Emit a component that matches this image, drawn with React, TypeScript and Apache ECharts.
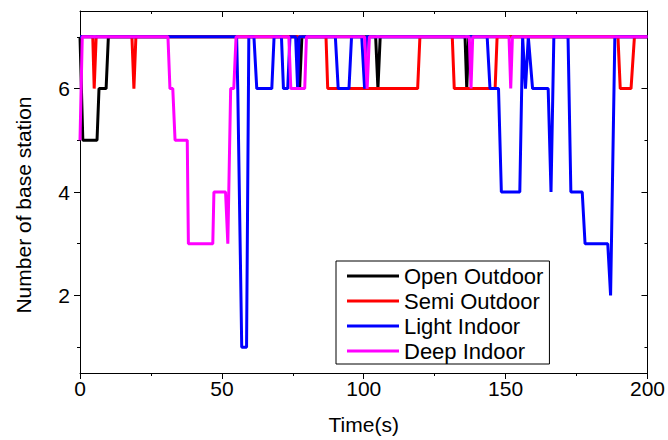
import React, { useEffect, useRef } from "react";
import * as echarts from "echarts";

const FONT = "Arial, 'Liberation Sans', sans-serif";

const seriesNames = ["Open Outdoor", "Semi Outdoor", "Light Indoor", "Deep Indoor"];
const seriesColors = ["#000000", "#FF0000", "#0000FF", "#FF00FF"];

// [time (s), number of base stations]
const openOutdoor: [number, number][] = [
  [0, 7], [1, 5], [6, 5], [6.7, 6], [9.2, 6], [10, 7],
  [76.6, 7], [77.4, 6], [78.2, 7],
  [104.2, 7], [105, 6], [105.8, 7],
  [135.7, 7], [136.3, 6], [137, 7],
  [200, 7],
];

const semiOutdoor: [number, number][] = [
  [0, 7], [4.5, 7], [5, 6], [5.7, 7],
  [18.3, 7], [19, 6], [19.7, 7],
  [86.7, 7], [87.3, 6], [119, 6], [119.8, 7],
  [131.2, 7], [131.9, 6], [146.3, 6], [147, 7],
  [189.6, 7], [190.4, 6], [194.2, 6], [195.4, 7],
  [200, 7],
];

const lightIndoor: [number, number][] = [
  [0, 7], [55.2, 7], [55.6, 6], [57, 1], [58.7, 1], [59.5, 7],
  [61.3, 7], [62.3, 6], [67.6, 6], [68.4, 7],
  [71, 7], [71.7, 6], [73.2, 6], [74, 7],
  [76, 7], [76.7, 6], [77.2, 7],
  [90, 7], [91, 6], [94.8, 6], [95.7, 7],
  [99.3, 7], [100.3, 6], [101, 7],
  [143.5, 7], [144.5, 6], [147.5, 6], [148.5, 4], [155, 4], [156, 7],
  [157, 6], [158, 7], [159.5, 6], [165, 6], [166, 4], [167, 7],
  [172, 7], [173, 4], [177, 4], [178, 3], [186, 3], [187, 2], [188.5, 7],
  [200, 7],
];

const deepIndoor: [number, number][] = [
  [0, 5], [0.8, 7], [31, 7], [31.7, 6], [32.7, 6], [33.5, 5], [37.8, 5],
  [38.2, 3], [46.8, 3], [47.2, 4], [51.3, 4], [52.1, 3], [53.1, 6],
  [54.2, 6], [55, 7],
  [73.6, 7], [74.3, 6], [79.2, 6], [79.8, 7],
  [100.3, 7], [101.2, 6], [102, 7],
  [137.2, 7], [137.8, 6], [138.4, 7],
  [151.2, 7], [151.8, 6], [152.4, 7],
  [200, 7],
];

const seriesData = [openOutdoor, semiOutdoor, lightIndoor, deepIndoor];

const xMin = 0;
const xMax = 200;
const xInterval = 50;
const yMin = 0.5;
const yMax = 7.5;
const yMajorTicks = [2, 4, 6];
const yMinorTicks = [1, 3, 5, 7];

const xTitle = "Time(s)";
const yTitle = "Number of base station";

export default function App() {
  const ref = useRef<HTMLDivElement>(null);

  useEffect(() => {
    if (!ref.current) return;
    const chart = echarts.init(ref.current, undefined, { renderer: "svg" });
    const lineCol = "#000";
    const axisLine = { show: true, lineStyle: { color: lineCol, width: 1 } };

    const option: any = {
      animation: false,
      backgroundColor: "#fff",
      grid: { left: 80, right: 19, top: 11, bottom: 66, containLabel: false },
      legend: {
        data: seriesNames,
        orient: "vertical",
        left: 336,
        top: 261,
        padding: [4, 6, 2, 11],
        itemGap: 3,
        itemWidth: 52,
        itemHeight: 3,
        icon: "rect",
        backgroundColor: "#fff",
        borderColor: "#000",
        borderWidth: 1,
        borderRadius: 0,
        textStyle: { fontSize: 22, color: "#000", fontFamily: FONT, lineHeight: 22 },
      },
      xAxis: [
        {
          type: "value",
          position: "bottom",
          min: xMin,
          max: xMax,
          interval: xInterval,
          axisLine,
          axisTick: { show: true, inside: false, length: 6, lineStyle: { color: lineCol } },
          minorTick: { show: true, splitNumber: 2, length: 3, lineStyle: { color: lineCol } },
          axisLabel: { fontSize: 21, color: "#000", margin: 5, fontFamily: FONT },
          splitLine: { show: false },
          minorSplitLine: { show: false },
          name: xTitle,
          nameLocation: "middle",
          nameGap: 41,
          nameTextStyle: { fontSize: 21, color: "#000", fontFamily: FONT },
        },
        {
          type: "value",
          position: "top",
          min: xMin,
          max: xMax,
          interval: xInterval,
          axisLine,
          axisTick: { show: true, inside: true, length: 6, lineStyle: { color: lineCol } },
          minorTick: { show: true, splitNumber: 2, length: 3, lineStyle: { color: lineCol } },
          axisLabel: { show: false },
          splitLine: { show: false },
          minorSplitLine: { show: false },
        },
      ],
      yAxis: [
        {
          type: "value",
          position: "left",
          min: yMin,
          max: yMax,
          axisLine,
          axisTick: { show: true, inside: false, length: 6, customValues: yMajorTicks, lineStyle: { color: lineCol } },
          axisLabel: { customValues: yMajorTicks, fontSize: 21, color: "#000", margin: 10, fontFamily: FONT },
          splitLine: { show: false },
          name: yTitle,
          nameLocation: "middle",
          nameGap: 46,
          nameTextStyle: { fontSize: 21, color: "#000", fontFamily: FONT, padding: [0, 26, 0, 0] },
        },
        {
          type: "value",
          position: "left",
          min: yMin,
          max: yMax,
          axisLine: { show: false },
          axisTick: { show: true, inside: false, length: 3, customValues: yMinorTicks, lineStyle: { color: lineCol } },
          axisLabel: { show: false },
          splitLine: { show: false },
        },
        {
          type: "value",
          position: "right",
          min: yMin,
          max: yMax,
          axisLine,
          axisTick: { show: true, inside: true, length: 6, customValues: yMajorTicks, lineStyle: { color: lineCol } },
          axisLabel: { show: false },
          splitLine: { show: false },
        },
        {
          type: "value",
          position: "right",
          min: yMin,
          max: yMax,
          axisLine: { show: false },
          axisTick: { show: true, inside: true, length: 3, customValues: yMinorTicks, lineStyle: { color: lineCol } },
          axisLabel: { show: false },
          splitLine: { show: false },
        },
      ],
      series: seriesNames.map((name, i) => ({
        name,
        type: "line",
        xAxisIndex: 0,
        yAxisIndex: 0,
        data: seriesData[i],
        symbol: "none",
        showSymbol: false,
        color: seriesColors[i],
        lineStyle: { color: seriesColors[i], width: 3 },
        itemStyle: { color: seriesColors[i] },
        emphasis: { disabled: true },
        z: 2 + i,
      })),
    };

    chart.setOption(option);
    return () => chart.dispose();
  }, []);

  return (
    <div
      ref={ref}
      style={{ position: "fixed", left: 0, top: 0, width: 668, height: 440, background: "#fff" }}
    />
  );
}
